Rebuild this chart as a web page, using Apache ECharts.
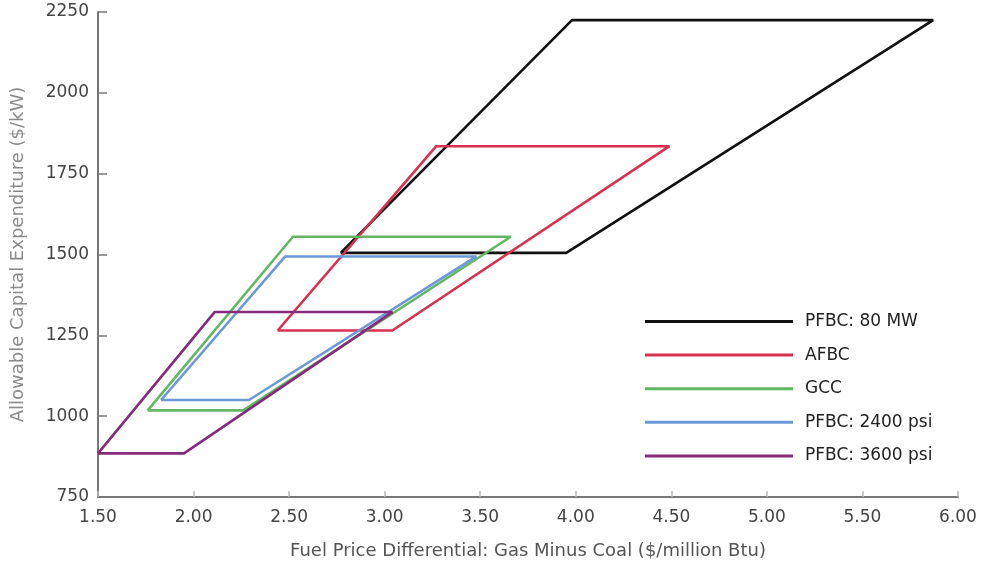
<!DOCTYPE html>
<html>
<head>
<meta charset="utf-8">
<script src="https://cdn.jsdelivr.net/npm/echarts@6/dist/echarts.min.js"></script>
<style>html,body{margin:0;padding:0;background:#fff;}#c{width:991px;height:564px;}</style>
</head>
<body>
<div id="c"></div>
<script>
// Series names
var seriesNames = ["PFBC: 80 MW", "AFBC", "GCC", "PFBC: 2400 psi", "PFBC: 3600 psi"];
// Closed outlines: [fuel price differential, allowable capital expenditure]
var pfbc80 = [[2.77,1505],[3.95,1505],[5.87,2225],[3.98,2225],[2.77,1505]];
var afbc = [[2.44,1265],[3.04,1265],[4.49,1835],[3.27,1835],[2.44,1265]];
var gcc = [[1.76,1018],[2.26,1018],[3.66,1555],[2.52,1555],[1.76,1018]];
var pfbc2400 = [[1.83,1050],[2.29,1050],[3.48,1494],[2.48,1494],[1.83,1050]];
var pfbc3600 = [[1.50,885],[1.95,885],[3.04,1322],[2.11,1322],[1.50,885]];
var seriesData = [pfbc80, afbc, gcc, pfbc2400, pfbc3600];
var colors = ["#111111", "#d9304f", "#62b862", "#6b98d6", "#862a7e"];
// Axis ranges and ticks
var xMin = 1.5, xMax = 6.0, xStep = 0.5;
var yMin = 750, yMax = 2250, yStep = 250;

var chart = echarts.init(document.getElementById('c'));
var font = "DejaVu Sans, Arial, sans-serif";
var series = seriesNames.map(function(n, i){
  return {
    name: n, type: 'line', data: seriesData[i], symbol: 'none',
    lineStyle: {color: colors[i], width: 2.6}, itemStyle: {color: colors[i]},
    animation: false
  };
});
chart.setOption({
  animation: false,
  grid: {left: 98, right: 33, top: 12, bottom: 67, containLabel: false, outerBoundsMode: 'none'},
  legend: {
    orient: 'vertical', left: 640, top: 308,
    itemWidth: 148, itemHeight: 3, itemGap: 16.6, icon: 'rect',
    data: seriesNames,
    textStyle: {fontFamily: font, fontSize: 17, color: '#222', padding: [0,0,0,7]}
  },
  xAxis: {
    type: 'value', min: xMin, max: xMax, interval: xStep,
    name: 'Fuel Price Differential: Gas Minus Coal ($/million Btu)',
    nameLocation: 'middle', nameGap: 45,
    nameTextStyle: {fontFamily: font, fontSize: 18, color: '#555'},
    axisLine: {lineStyle: {color: '#777', width: 2}},
    axisTick: {inside: true, length: 6, lineStyle: {color: '#bbb', width: 1.5}},
    axisLabel: {fontFamily: font, fontSize: 17, color: '#444', margin: 12,
      formatter: function(v){ return v.toFixed(2); }},
    splitLine: {show: false}
  },
  yAxis: {
    type: 'value', min: yMin, max: yMax, interval: yStep,
    name: 'Allowable Capital Expenditure ($/kW)',
    nameLocation: 'middle', nameGap: 71,
    nameTextStyle: {fontFamily: font, fontSize: 18, color: '#8a8a8a'},
    axisLine: {show: true, lineStyle: {color: '#777', width: 2}},
    axisTick: {show: true, inside: true, length: 9, lineStyle: {color: '#777', width: 1.5}},
    axisLabel: {fontFamily: font, fontSize: 17, color: '#444', margin: 9,
      formatter: function(v){ return String(v); }},
    splitLine: {show: false}
  },
  series: series
});
</script>
</body>
</html>
